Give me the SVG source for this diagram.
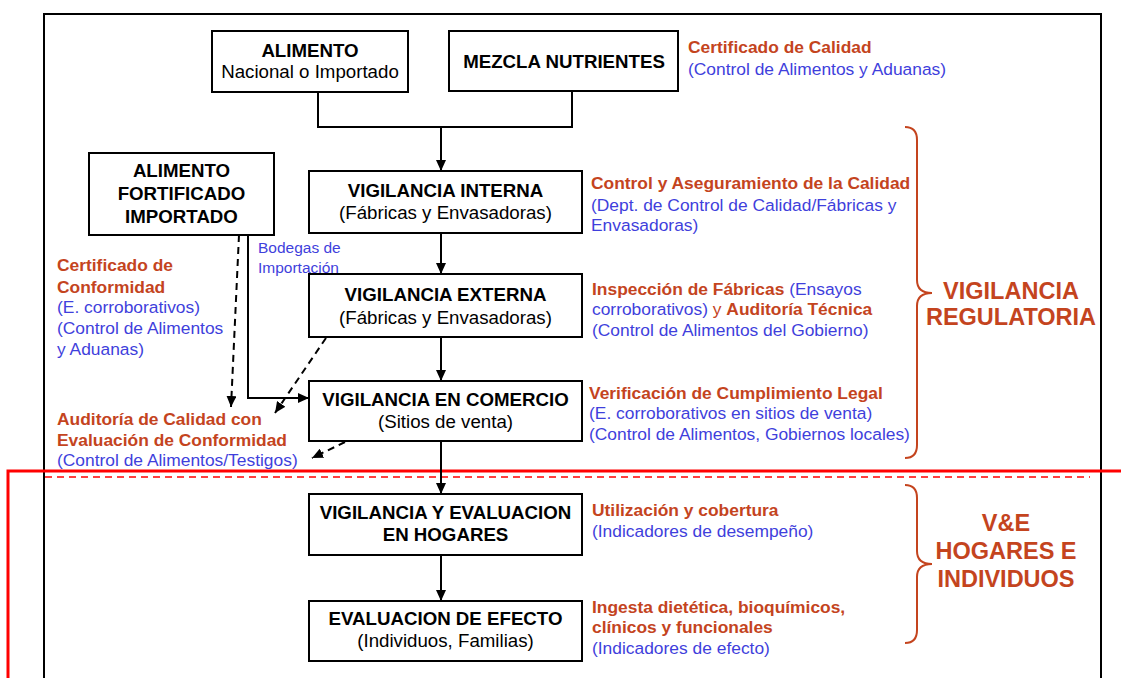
<svg xmlns="http://www.w3.org/2000/svg" width="1121" height="678" viewBox="0 0 1121 678">
<style>
text{font-family:"Liberation Sans",Arial,sans-serif}
.box{fill:#fff;stroke:#000;stroke-width:2}
.bt{font-size:18.7px;font-weight:bold;text-anchor:middle;fill:#000}
.rt{font-size:18.7px;text-anchor:middle;fill:#000}
.lo{font-size:17.4px;font-weight:bold;fill:#C4441E}
.lb{font-size:17.4px;fill:#3F3FDC}
.big{font-size:23.5px;font-weight:bold;fill:#C4441E;text-anchor:middle}
.ln{fill:none;stroke:#000;stroke-width:2}
.dl{fill:none;stroke:#000;stroke-width:2;stroke-dasharray:7,5}
.brace{fill:none;stroke:#C4441E;stroke-width:2}
</style>
<defs>
<marker id="arr" viewBox="0 0 11 10" refX="11" refY="5" markerWidth="11" markerHeight="10" orient="auto" markerUnits="userSpaceOnUse"><path d="M0,0 L11,5 L0,10 z" fill="#000"/></marker>
</defs>
<rect width="1121" height="678" fill="#fff"/>
<g id="frame">
<path d="M44,690 L44,14 L1101,14 L1101,690" fill="none" stroke="#000" stroke-width="2"/>
<path d="M8,690 L8,471 L1121,471" fill="none" stroke="#FF0000" stroke-width="3"/>
<line x1="45" y1="477" x2="1090" y2="477" stroke="#FF0000" stroke-width="1.5" stroke-dasharray="7,5"/>
</g>
<g id="connectors">
<polyline class="ln" points="318,92 318,127 572,127 572,91"/>
<line class="ln" x1="441" y1="127" x2="441" y2="171" marker-end="url(#arr)"/>
<line class="ln" x1="441" y1="233" x2="441" y2="274" marker-end="url(#arr)"/>
<line class="ln" x1="441" y1="337" x2="441" y2="381" marker-end="url(#arr)"/>
<line class="ln" x1="441" y1="441" x2="441" y2="494" marker-end="url(#arr)"/>
<line class="ln" x1="441" y1="555" x2="441" y2="601" marker-end="url(#arr)"/>
<polyline class="ln" points="248,235 248,398 309,398" marker-end="url(#arr)"/>
<line class="dl" x1="239" y1="235" x2="231" y2="407" marker-end="url(#arr)"/>
<line class="dl" x1="326" y1="338" x2="275" y2="413" marker-end="url(#arr)"/>
<line class="dl" x1="345" y1="442" x2="312" y2="458" marker-end="url(#arr)"/>
</g>
<g id="n-alimento">
<rect class="box" x="212" y="31" width="196" height="61"/>
<text class="bt" x="310" y="57">ALIMENTO</text>
<text class="rt" x="310" y="78">Nacional o Importado</text>
</g>
<g id="n-mezcla">
<rect class="box" x="449" y="31" width="229" height="60"/>
<text class="bt" x="564" y="68">MEZCLA NUTRIENTES</text>
</g>
<g id="n-fortificado">
<rect class="box" x="89" y="153" width="185" height="82"/>
<text class="bt" x="181.5" y="177">ALIMENTO</text>
<text class="bt" x="181.5" y="200">FORTIFICADO</text>
<text class="bt" x="181.5" y="223">IMPORTADO</text>
</g>
<g id="n-interna">
<rect class="box" x="309" y="171" width="273" height="62"/>
<text class="bt" x="445.5" y="197">VIGILANCIA INTERNA</text>
<text class="rt" x="445.5" y="219">(Fábricas y Envasadoras)</text>
</g>
<g id="n-externa">
<rect class="box" x="309" y="274" width="273" height="63"/>
<text class="bt" x="445.5" y="301">VIGILANCIA EXTERNA</text>
<text class="rt" x="445.5" y="324">(Fábricas y Envasadoras)</text>
</g>
<g id="n-comercio">
<rect class="box" x="309" y="381" width="273" height="60"/>
<text class="bt" x="445.5" y="406">VIGILANCIA EN COMERCIO</text>
<text class="rt" x="445.5" y="428">(Sitios de venta)</text>
</g>
<g id="n-hogares">
<rect class="box" x="309" y="494" width="273" height="61"/>
<text class="bt" x="445.5" y="519">VIGILANCIA Y EVALUACION</text>
<text class="bt" x="445.5" y="541">EN HOGARES</text>
</g>
<g id="n-efecto">
<rect class="box" x="309" y="601" width="273" height="60"/>
<text class="bt" x="445.5" y="625">EVALUACION DE EFECTO</text>
<text class="rt" x="445.5" y="647">(Individuos, Familias)</text>
</g>
<g id="labels">
<text class="lo" x="688" y="53">Certificado de Calidad</text>
<text class="lb" x="688" y="75">(Control de Alimentos y Aduanas)</text>
<text class="lo" x="591" y="189">Control y Aseguramiento de la Calidad</text>
<text class="lb" x="591" y="211">(Dept. de Control de Calidad/Fábricas y</text>
<text class="lb" x="591" y="231">Envasadoras)</text>
<text x="592" y="295"><tspan class="lo">Inspección de Fábricas </tspan><tspan class="lb">(Ensayos</tspan></text>
<text x="592" y="315"><tspan class="lb">corroborativos) </tspan><tspan class="lb" style="fill:#C4441E">y </tspan><tspan class="lo">Auditoría Técnica</tspan></text>
<text class="lb" x="592" y="336">(Control de Alimentos del Gobierno)</text>
<text class="lo" x="589" y="399">Verificación de Cumplimiento Legal</text>
<text class="lb" x="589" y="419">(E. corroborativos en sitios de venta)</text>
<text class="lb" x="589" y="440">(Control de Alimentos, Gobiernos locales)</text>
<text class="lb" x="258" y="253" style="font-size:15.5px">Bodegas de</text>
<text class="lb" x="258" y="273" style="font-size:15.5px">Importación</text>
<text class="lo" x="57" y="271">Certificado de</text>
<text class="lo" x="57" y="293">Conformidad</text>
<text class="lb" x="57" y="313">(E. corroborativos)</text>
<text class="lb" x="57" y="334">(Control de Alimentos</text>
<text class="lb" x="57" y="355">y Aduanas)</text>
<text class="lo" x="57" y="425">Auditoría de Calidad con</text>
<text class="lo" x="57" y="446">Evaluación de Conformidad</text>
<text class="lb" x="57" y="466">(Control de Alimentos/Testigos)</text>
<text class="lo" x="592" y="516">Utilización y cobertura</text>
<text class="lb" x="592" y="537">(Indicadores de desempeño)</text>
<text class="lo" x="592" y="613">Ingesta dietética, bioquímicos,</text>
<text class="lo" x="592" y="633">clínicos y funcionales</text>
<text class="lb" x="592" y="654">(Indicadores de efecto)</text>
</g>
<g id="brace-regulatoria">
<path class="brace" d="M905,127 Q917,127 917,140 L917,280 Q917,293 932,293 Q917,293 917,306 L917,445 Q917,458 905,458"/>
<text class="big" x="1011" y="299">VIGILANCIA</text>
<text class="big" x="1011" y="325">REGULATORIA</text>
</g>
<g id="brace-hogares">
<path class="brace" d="M905,485 Q917,485 917,498 L917,551 Q917,564 932,564 Q917,564 917,577 L917,630 Q917,643 905,643"/>
<text class="big" x="1006" y="531">V&amp;E</text>
<text class="big" x="1006" y="559">HOGARES E</text>
<text class="big" x="1006" y="587">INDIVIDUOS</text>
</g>
</svg>
